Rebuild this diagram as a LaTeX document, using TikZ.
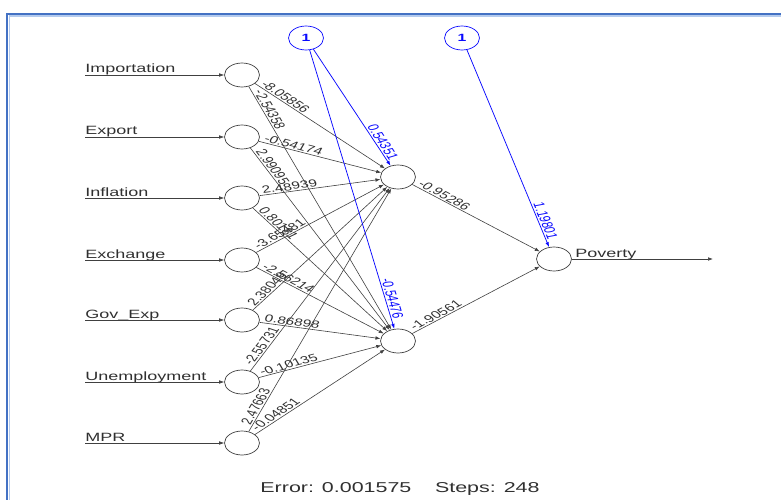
\documentclass[tikz,border=0pt]{standalone}
\usepackage{fontspec}
\setmainfont{Liberation Sans}
\usetikzlibrary{arrows.meta,calc,shapes.geometric}

\definecolor{edgegray}{HTML}{404040}
\definecolor{txtgray}{HTML}{303030}
\definecolor{biasblue}{HTML}{0A0AFF}
\definecolor{frameblue}{HTML}{4472C4}
\definecolor{framelight}{HTML}{B4CBEE}

% horizontal stretch of every text
\newcommand\sxf{1.5}

% weighted connector: #2 source, #3 target, #4 weight, #5 line style, #1 extra label options
\newcommand\wtedge[5][]{%
  \draw[#5] let \p1=($(#3)-(#2)$), \n1={atan2(\y1,\x1/\sxf)} in
    (#2) -- node[pos=0.02, anchor=south west, xscale=\sxf, rotate=\n1, wlbl, #1] {#4} (#3);}

\tikzset{
  unit/.style={ellipse, draw=edgegray, line width=0.7pt, minimum width=35pt,
    minimum height=24pt, inner sep=0pt},
  biasunit/.style={unit, draw=biasblue, text=biasblue,
    font=\fontsize{10.5}{10}\selectfont\bfseries},
  conn/.style={draw=edgegray, line width=0.6pt, -{Latex[length=5pt,width=3.6pt]}},
  biasconn/.style={conn, draw=biasblue, line width=0.75pt},
  wlbl/.style={font=\fontsize{10.3}{10}\selectfont, text=txtgray, inner sep=0.8pt},
  blbl/.style={pos=0.97, anchor=south east, text=biasblue},
  inlbl/.style={font=\fontsize{12}{12}\selectfont, text=txtgray, anchor=base west,
    xscale=\sxf, inner sep=0pt},
}

\begin{document}
\begin{tikzpicture}[x=1pt, y=-1pt]
  \useasboundingbox (0,0) rectangle (781,500);

  % window frame
  \draw[framelight, line width=1.2pt] (9.4,520) -- (9.4,16) -- (800,16);
  \draw[frameblue, line width=2.2pt] (7,520) -- (7,14) -- (800,14);

  % units
  \node[unit] (i1) at (242,75) {};
  \node[unit] (i2) at (242,137) {};
  \node[unit] (i3) at (242,198) {};
  \node[unit] (i4) at (242,260) {};
  \node[unit] (i5) at (242,320) {};
  \node[unit] (i6) at (242,382) {};
  \node[unit] (i7) at (242,443) {};
  \node[unit] (h1) at (398,177) {};
  \node[unit] (h2) at (398,341) {};
  \node[unit] (o) at (554,259) {};
  \node[biasunit] (b1) at (306,38) {\scalebox{\sxf}[1]{1}};
  \node[biasunit] (b2) at (462,38) {\scalebox{\sxf}[1]{1}};

  % input names and entry lines
  \node[inlbl] (l1) at (85,73) {Importation};
  \node[inlbl] (l2) at (85,135) {Export};
  \node[inlbl] (l3) at (85,196) {Inflation};
  \node[inlbl] (l4) at (85,258) {Exchange};
  \node[inlbl] (l5) at (85,318) {Gov\_Exp};
  \node[inlbl] (l6) at (85,380) {Unemployment};
  \node[inlbl] (l7) at (85,441) {MPR};
  \foreach \k/\yy in {1/75,2/137,3/198,4/260,5/320,6/382,7/443}{
    \coordinate (s\k) at (85,\yy);
    \draw[conn] (s\k) -- (i\k);
  }

  % output line
  \node[inlbl] (lo) at (575,257) {Poverty};
  \coordinate (oend) at (713,259);
  \draw[conn] (o) -- (oend);

  % input to hidden weights
  \wtedge{i1}{h1}{-8.05856}{conn}
  \wtedge{i1}{h2}{-2.54358}{conn}
  \wtedge{i2}{h1}{-0.54174}{conn}
  \wtedge{i2}{h2}{2.99095}{conn}
  \wtedge{i3}{h1}{2.48939}{conn}
  \wtedge{i3}{h2}{0.80181}{conn}
  \wtedge{i4}{h1}{-3.65481}{conn}
  \wtedge{i4}{h2}{-2.56214}{conn}
  \wtedge{i5}{h1}{2.38048}{conn}
  \wtedge{i5}{h2}{0.86898}{conn}
  \wtedge{i6}{h1}{-2.55731}{conn}
  \wtedge{i6}{h2}{-0.10135}{conn}
  \wtedge{i7}{h1}{2.47663}{conn}
  \wtedge{i7}{h2}{-0.04851}{conn}

  % hidden to output weights
  \wtedge{h1}{o}{-0.95286}{conn}
  \wtedge{h2}{o}{-1.90561}{conn}

  % bias weights
  \wtedge[blbl]{b1}{h1}{0.54351}{biasconn}
  \wtedge[blbl]{b1}{h2}{-0.54476}{biasconn}
  \wtedge[blbl]{b2}{o}{1.19801}{biasconn}

  % training summary
  \node[font=\fontsize{14.3}{14}\selectfont, text=txtgray, anchor=base, xscale=\sxf,
    inner sep=0pt] (err) at (400,492) {Error: 0.001575\hspace{1.1em}Steps: 248};
\end{tikzpicture}
\end{document}
